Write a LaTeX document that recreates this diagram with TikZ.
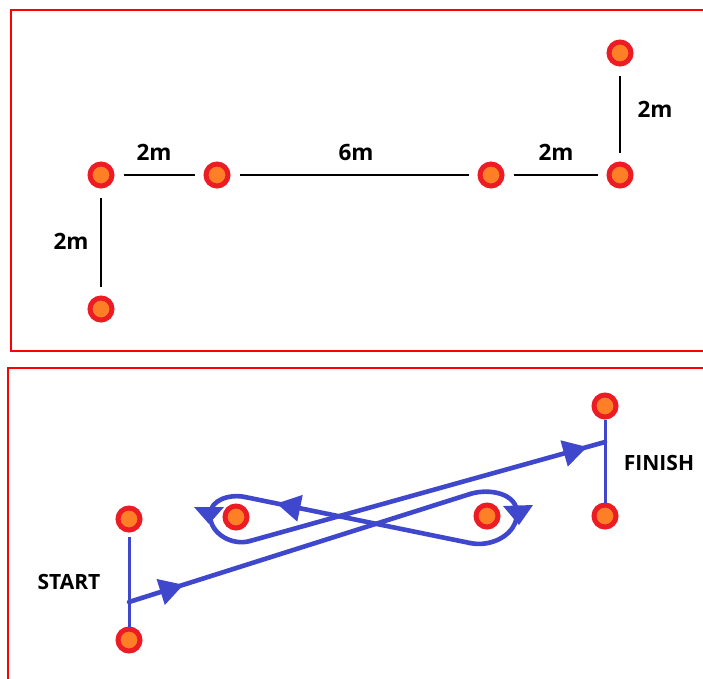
\documentclass[tikz,border=0pt]{standalone}
\usepackage{fontspec}
\setmainfont{Open Sans}
\usetikzlibrary{arrows.meta,decorations.markings}
\definecolor{ring}{RGB}{237,28,36}
\definecolor{core}{RGB}{255,127,39}
\definecolor{frame}{RGB}{255,0,0}
\definecolor{routeblue}{RGB}{63,72,204}
\tikzset{
  cone/.style={circle, draw=ring, fill=core, line width=5pt, minimum size=22pt, inner sep=0pt},
  dimlabel/.style={font=\bfseries\fontsize{22.5}{24}\selectfont, text=black, inner sep=0pt},
  tag/.style={font=\bfseries\fontsize{21}{24}\selectfont, text=black, inner sep=0pt},
  meas/.style={black, line width=1.4pt, shorten <=9pt, shorten >=9pt},
  route/.style={routeblue, line width=4.6pt, line cap=round},
  gate/.style={routeblue, line width=3pt},
  arrowat/.style={postaction={decorate}, decoration={markings, mark=at position #1 with {\arrow{Triangle[length=24pt,width=26pt]}}}},
  loophead/.style={fill=routeblue},
  panel/.style={draw=frame, line width=2pt}
}
\begin{document}
\begin{tikzpicture}[x=1pt,y=1pt]
\useasboundingbox (0,0) rectangle (703,-678);
\clip (0,0) rectangle (703,-678);
\fill[white] (0,0) rectangle (703,-678);
\draw[panel] (11,-10) rectangle (720,-351);
\draw[panel] (8,-368) rectangle (720,-700);

% top panel
\node[cone] (t1) at (101,-175) {};
\node[cone] (t2) at (217,-175) {};
\node[cone] (t3) at (491,-175) {};
\node[cone] (t4) at (620,-175) {};
\node[cone] (t5) at (620,-53) {};
\node[cone] (t6) at (101,-309) {};
\draw[meas] (t1) -- (t2);
\draw[meas] (t2) -- (t3);
\draw[meas] (t3) -- (t4);
\draw[meas] (t5) -- (t4);
\draw[meas] (t1) -- (t6);
\node[dimlabel] (l1) at (154,-152) {2m};
\node[dimlabel] (l2) at (356,-152) {6m};
\node[dimlabel] (l3) at (556,-152) {2m};
\node[dimlabel] (l4) at (655,-109) {2m};
\node[dimlabel] (l5) at (71,-241) {2m};

% bottom panel
\node[cone] (b1) at (129,-519) {};
\node[cone] (b2) at (129,-640) {};
\node[cone] (b3) at (236,-517) {};
\node[cone] (b4) at (487,-516) {};
\node[cone] (b5) at (605,-406) {};
\node[cone] (b6) at (605,-516) {};
\draw[gate, shorten <=4pt] (b1) -- (b2);
\draw[gate] (b5) -- (b6);

\coordinate (S) at (129,-602);
\coordinate (F) at (605,-442);
\coordinate (A) at (470,-494);
\coordinate (R) at (517,-513);
\coordinate (B) at (470,-543);
\coordinate (C) at (245,-497);
\coordinate (L) at (210,-515);
\coordinate (D) at (250,-541);

\draw[route, arrowat=0.16] (S) -- (A);
\draw[route] (A) to[out=17.6,in=90] (R);
\draw[route] (R) to[out=-90,in=-12] (B);
\draw[route, arrowat=0.86] (B) -- (C);
\draw[route] (C) to[out=168,in=90] (L);
\draw[route] (L) to[out=-90,in=196] (D);
\draw[route, arrowat=0.95] (D) -- (F);

% arrowheads on the loops
\fill[loophead] (194,-507) -- (224,-507) -- (209,-524) -- cycle;
\fill[loophead] (503,-506) -- (533,-505) -- (519,-525) -- cycle;

\node[tag] (st) at (69,-582) {START};
\node[tag] (fi) at (659,-463) {FINISH};
\end{tikzpicture}
\end{document}
